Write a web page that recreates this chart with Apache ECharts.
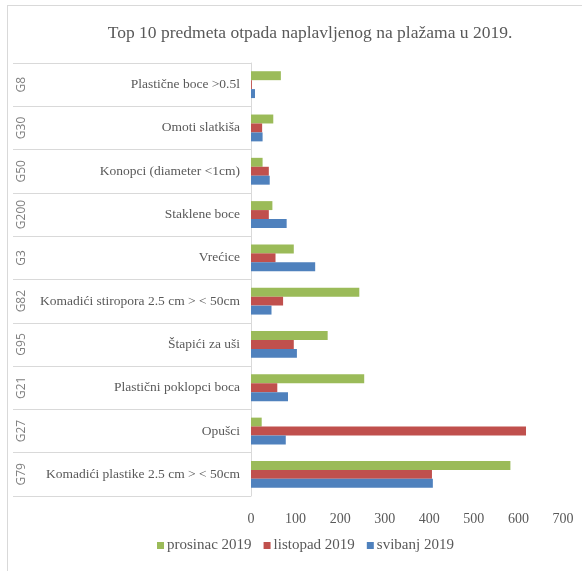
<!DOCTYPE html>
<html>
<head>
<meta charset="utf-8">
<script src="https://cdn.jsdelivr.net/npm/echarts@6/dist/echarts.min.js"></script>
<style>
html,body{margin:0;padding:0;background:#fff;}
#frame{position:absolute;left:7px;top:5px;width:575px;height:566px;border-left:1px solid #d9d9d9;border-top:1px solid #d9d9d9;}
#main{position:absolute;left:0;top:0;width:582px;height:571px;}
</style>
</head>
<body>
<div id="frame"></div>
<div id="main"></div>
<script>
const titleText = 'Top 10 predmeta otpada naplavljenog na plažama u 2019.';
const codes = ['G8','G30','G50','G200','G3','G82','G95','G21','G27','G79'];
const names = ['Plastične boce >0.5l','Omoti slatkiša','Konopci (diameter <1cm)','Staklene boce','Vrećice','Komadići stiropora 2.5 cm > < 50cm','Štapići za uši','Plastični poklopci boca','Opušci','Komadići plastike 2.5 cm > < 50cm'];
const seriesNames = ['prosinac 2019','listopad 2019','svibanj 2019'];
const prosinac = [67, 50, 26, 48, 96, 243, 172, 254, 24, 582];
const listopad = [2, 25, 40, 40, 55, 72, 96, 59, 617, 406];
const svibanj = [9, 26, 42, 80, 144, 46, 103, 83, 78, 408];
const colors = ['#9BBB59','#C0504D','#4F81BD'];

const serif = '"Liberation Serif", "DejaVu Serif", serif';
const chart = echarts.init(document.getElementById('main'));
chart.setOption({
  animation: false,
  color: colors,
  title: {
    text: titleText, left: 305, top: 19, textAlign: 'center',
    textStyle: {fontFamily: serif, fontSize: 17.5, fontWeight: 'normal', color: '#595959'}
  },
  legend: {
    data: seriesNames, bottom: 13, left: 152,
    icon: 'rect', itemWidth: 7, itemHeight: 7, itemGap: 12,
    textStyle: {fontFamily: serif, fontSize: 15, color: '#595959', padding: [0, 0, 0, -2]}
  },
  grid: {left: 251, right: 19, top: 63, bottom: 75},
  xAxis: {
    type: 'value', min: 0, max: 700, interval: 100,
    axisLine: {show: false}, axisTick: {show: false}, splitLine: {show: false},
    axisLabel: {fontFamily: serif, fontSize: 14, color: '#595959', margin: 16}
  },
  yAxis: [{
    type: 'category', data: names, inverse: true,
    axisLine: {show: true, lineStyle: {color: '#d9d9d9'}},
    axisTick: {show: true, length: 238, lineStyle: {color: '#d9d9d9'}},
    axisLabel: {fontFamily: serif, fontSize: 13.5, color: '#595959', margin: 11}
  }, {
    type: 'category', data: codes, inverse: true, position: 'left', offset: 219,
    axisLine: {show: false}, axisTick: {show: false},
    axisLabel: {fontFamily: '"Open Sans", "Liberation Sans", sans-serif', fontSize: 12, color: '#7f7f7f', rotate: 90, margin: 4}
  }],
  series: [
    {name: seriesNames[0], type: 'bar', data: prosinac, barGap: '0%', barCategoryGap: '38%'},
    {name: seriesNames[1], type: 'bar', data: listopad, barGap: '0%', barCategoryGap: '38%'},
    {name: seriesNames[2], type: 'bar', data: svibanj, barGap: '0%', barCategoryGap: '38%'}
  ]
});
</script>
</body>
</html>
